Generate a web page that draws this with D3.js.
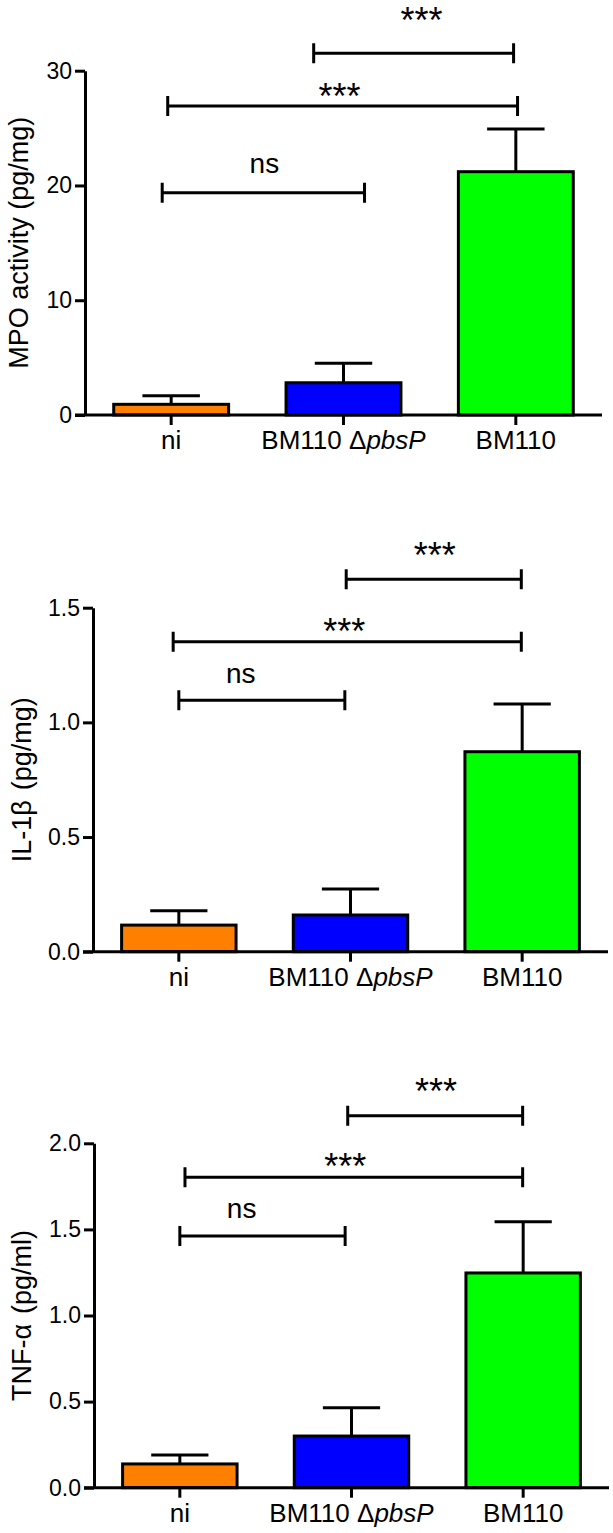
<!DOCTYPE html>
<html>
<head>
<meta charset="utf-8">
<script src="https://cdn.jsdelivr.net/npm/d3@7/dist/d3.min.js"></script>
<style>
  html, body { margin: 0; padding: 0; background: #fff; }
  svg { display: block; }
  text { font-family: Arial, "Liberation Sans", sans-serif; fill: #000; }
</style>
</head>
<body>
<svg id="chart" width="613" height="1533"></svg>
<script>
// ---------- data ----------
const categories = ["ni", "BM110 ΔpbsP", "BM110"];
const barColors = ["#FF8000", "#0000FF", "#00FF00"];

const mpoMean = [0.93, 2.81, 21.2];
const mpoErr  = [0.75, 1.69, 3.72];
const mpoTicks = [0, 10, 20, 30];
const mpoTickLabels = ["0", "10", "20", "30"];

const il1bMean = [0.116, 0.160, 0.872];
const il1bErr  = [0.063, 0.113, 0.208];
const il1bTicks = [0, 0.5, 1.0, 1.5];
const il1bTickLabels = ["0.0", "0.5", "1.0", "1.5"];

const tnfMean = [0.138, 0.30, 1.247];
const tnfErr  = [0.052, 0.165, 0.298];
const tnfTicks = [0, 0.5, 1.0, 1.5, 2.0];
const tnfTickLabels = ["0.0", "0.5", "1.0", "1.5", "2.0"];

// significance brackets: [from (category index), to (category index), y value]
const mpoBrackets  = [[-0.052, 1.122, 19.37], [-0.02, 2.01, 26.92], [0.827, 1.987, 31.52]];
const il1bBrackets = [[0.0, 0.967, 1.096], [-0.033, 1.995, 1.352], [0.975, 1.995, 1.624]];
const tnfBrackets  = [[0.0, 0.963, 1.462], [0.03, 1.997, 1.803], [0.978, 1.997, 2.160]];

// significance labels: [text, x (category index), y value]
const mpoSig  = [["ns", 0.541, 21.1], ["***", 0.977, 28.47], ["***", 1.453, 35.14]];
const il1bSig = [["ns", 0.361, 1.173], ["***", 0.963, 1.432], ["***", 1.491, 1.766]];
const tnfSig  = [["ns", 0.36, 1.564], ["***", 0.963, 1.913], ["***", 1.492, 2.348]];

// ---------- layout ----------
const panels = [
  { mean: mpoMean, err: mpoErr, ticks: mpoTicks, tickLabels: mpoTickLabels, yMax: 30,
    brackets: mpoBrackets, sig: mpoSig, label: "MPO activity (pg/mg)",
    left: 85, right: 602, bottom: 415, top: 70.7, labelX: 28 },
  { mean: il1bMean, err: il1bErr, ticks: il1bTicks, tickLabels: il1bTickLabels, yMax: 1.5,
    brackets: il1bBrackets, sig: il1bSig, label: "IL-1β",
    unit: "(pg/mg)",
    left: 93, right: 608, bottom: 951.7, top: 607.7, labelX: 31 },
  { mean: tnfMean, err: tnfErr, ticks: tnfTicks, tickLabels: tnfTickLabels, yMax: 2.0,
    brackets: tnfBrackets, sig: tnfSig, label: "TNF-α",
    unit: "(pg/ml)",
    left: 94, right: 609, bottom: 1487.7, top: 1143.3, labelX: 31 }
];

const svg = d3.select("#chart");
const SW = 3;

panels.forEach(p => {
  const g = svg.append("g");
  const x = d3.scaleBand().domain(categories).range([p.left, p.right])
    .paddingInner(1/3).paddingOuter(1/6);
  const y = d3.scaleLinear().domain([0, p.yMax]).range([p.bottom, p.top]);
  const c0 = x(categories[0]) + x.bandwidth() / 2;
  const xi = d3.scaleLinear().domain([0, 1]).range([c0, c0 + x.step()]);

  // error bars (drawn first so bar covers the lower part)
  categories.forEach((c, i) => {
    const cx = x(c) + x.bandwidth() / 2;
    const capW = x.bandwidth() / 2;
    g.append("line").attr("x1", cx).attr("x2", cx)
      .attr("y1", y(p.mean[i])).attr("y2", y(p.mean[i] + p.err[i]))
      .attr("stroke", "#000").attr("stroke-width", SW);
    g.append("line").attr("x1", cx - capW / 2).attr("x2", cx + capW / 2)
      .attr("y1", y(p.mean[i] + p.err[i])).attr("y2", y(p.mean[i] + p.err[i]))
      .attr("stroke", "#000").attr("stroke-width", SW);
  });

  // bars
  g.selectAll("rect.bar").data(categories).enter().append("rect")
    .attr("class", "bar")
    .attr("x", d => x(d))
    .attr("width", x.bandwidth())
    .attr("y", (d, i) => y(p.mean[i]))
    .attr("height", (d, i) => y(0) - y(p.mean[i]))
    .attr("fill", (d, i) => barColors[i])
    .attr("stroke", "#000").attr("stroke-width", SW);

  // y axis
  const yAxis = d3.axisLeft(y).tickValues(p.ticks)
    .tickFormat((d, i) => p.tickLabels[i]).tickSize(10).tickSizeOuter(0).tickPadding(3);
  const ya = g.append("g").attr("transform", `translate(${p.left},0)`).call(yAxis);
  ya.select(".domain").attr("stroke-width", SW);
  ya.selectAll(".tick line").attr("stroke-width", SW);
  ya.selectAll(".tick text").style("font-size", "23px").style("font-family", "Arial, 'Liberation Sans', sans-serif");

  // x axis
  const xAxis = d3.axisBottom(x).tickSize(10).tickSizeOuter(0).tickFormat("");
  const xa = g.append("g").attr("transform", `translate(0,${p.bottom})`).call(xAxis);
  xa.select(".domain").attr("stroke-width", SW).attr("d", `M${p.left - 10},0H${p.right}`);
  xa.selectAll(".tick line").attr("stroke-width", SW);

  // category labels
  categories.forEach((c, i) => {
    const t = g.append("text")
      .attr("x", x(c) + x.bandwidth() / 2)
      .attr("y", p.bottom + 34)
      .attr("text-anchor", "middle")
      .style("font-size", "26px");
    if (c.indexOf("Δ") >= 0) {
      t.append("tspan").text("BM110 Δ");
      t.append("tspan").style("font-style", "italic").text("pbsP");
    } else {
      t.text(c);
    }
  });

  // y label
  const yl = g.append("text")
    .attr("transform", `translate(${p.labelX},${(p.top + p.bottom) / 2 - 0}) rotate(-90)`)
    .attr("text-anchor", "middle")
    .style("font-size", "27px");
  if (p.unit) {
    yl.append("tspan").text(p.label);
    yl.append("tspan").attr("dx", 10).text(p.unit);
  } else {
    yl.text(p.label);
  }

  // brackets
  p.brackets.forEach(b => {
    const x1 = xi(b[0]), x2 = xi(b[1]), yy = y(b[2]);
    g.append("path")
      .attr("d", `M${x1},${yy}H${x2}M${x1},${yy - 10}V${yy + 10}M${x2},${yy - 10}V${yy + 10}`)
      .attr("fill", "none").attr("stroke", "#000").attr("stroke-width", SW);
  });

  // significance labels
  p.sig.forEach(s => {
    const isStar = s[0] === "***";
    g.append("text")
      .attr("x", xi(s[1]))
      .attr("y", y(s[2]) + (isStar ? 21 : 0))
      .attr("text-anchor", "middle")
      .style("font-size", isStar ? "36px" : "28px")
      .text(s[0]);
  });
});
</script>
</body>
</html>
